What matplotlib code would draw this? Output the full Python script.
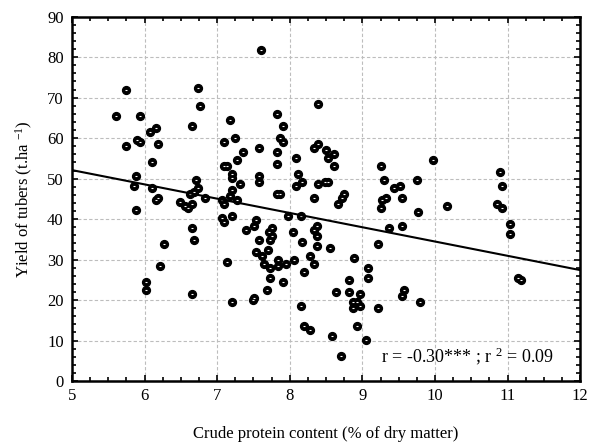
import matplotlib
matplotlib.use("Agg")
import matplotlib.pyplot as plt
from matplotlib.ticker import MultipleLocator

plt.rcParams['font.family'] = ['Liberation Serif', 'DejaVu Serif']
plt.rcParams['mathtext.fontset'] = 'custom'
plt.rcParams['mathtext.rm'] = 'Liberation Serif'
plt.rcParams['mathtext.it'] = 'Liberation Serif:italic'

# crude protein content (% DM) and tuber yield (t/ha)
protein = [5.61, 5.75, 5.75, 5.89, 5.94, 5.94, 5.88, 5.86, 5.88, 6.08,
           6.16, 6.18, 6.10, 6.10, 6.16, 6.19, 6.27, 6.21, 6.02, 6.02,
           6.49, 6.55, 6.60, 6.65, 6.63, 6.68, 6.74, 6.71, 6.83, 6.65,
           6.68, 6.65, 6.65, 6.74, 6.77,
           7.10, 7.10, 7.13, 7.18, 7.24, 7.27, 7.21, 7.21, 7.35, 7.32,
           7.21, 7.18, 7.27, 7.07, 7.10, 7.07, 7.10, 7.21, 7.13, 7.21,
           7.40, 7.51, 7.54, 7.57, 7.60, 7.57, 7.57, 7.57, 7.54, 7.62,
           7.70, 7.65, 7.73, 7.73, 7.68, 7.49, 7.51, 7.76, 7.71, 7.76,
           7.73, 7.82, 7.90, 7.87, 7.90, 7.82, 7.82, 7.82, 7.87, 7.84,
           7.84, 7.90, 7.95, 7.98, 8.04, 8.06, 8.09, 8.12, 8.09, 8.17,
           8.15, 8.17, 8.20, 8.15, 8.20, 8.28, 8.28, 8.34, 8.39, 8.34,
           8.39, 8.50, 8.61, 8.53, 8.61, 8.39, 8.48, 8.53, 8.34, 8.75,
           8.72, 8.67, 8.37, 8.34, 8.37, 8.37, 8.56, 8.58, 8.70, 8.64,
           8.81, 8.81, 8.89, 9.08, 9.08, 8.97, 8.87, 8.93, 8.87, 8.97,
           8.92, 9.05, 9.22, 9.22, 9.36, 9.55, 9.25, 9.30, 9.44, 9.52,
           9.27, 9.33, 9.25, 9.55, 9.75, 9.77, 9.97, 9.55, 9.58, 9.80,
           10.16, 10.90, 10.93, 10.85, 10.93, 11.04, 11.04, 11.15, 11.18]
yield_ = [65.5, 71.9, 58.1, 59.5, 59.0, 65.5, 50.6, 48.2, 42.2, 61.5,
          62.5, 58.5, 54.1, 47.7, 44.7, 45.2, 33.8, 28.4, 24.5, 22.5,
          44.2, 43.2, 42.7, 43.7, 46.2, 46.7, 47.7, 49.7, 45.2, 37.8,
          34.8, 21.5, 63.0, 72.4, 67.9,
          59.0, 53.1, 53.1, 64.5, 60.0, 54.6, 51.1, 50.1, 56.6, 48.7,
          47.2, 45.7, 44.7, 44.7, 43.7, 40.3, 39.3, 40.8, 29.4, 19.5,
          37.3, 38.3, 39.8, 57.6, 81.8, 50.6, 49.2, 34.8, 31.9, 30.9,
          32.4, 28.9, 27.9, 25.4, 22.5, 20.0, 20.5, 37.8, 36.8, 35.8,
          34.8, 66.0, 63.0, 60.0, 59.0, 56.6, 53.6, 46.2, 46.2, 29.9,
          28.4, 24.5, 28.9, 40.8, 36.8, 29.9, 55.1, 51.1, 48.2, 49.2,
          40.8, 34.3, 26.9, 18.5, 13.6, 12.6, 30.9, 28.9, 68.4, 57.6,
          58.5, 57.1, 56.1, 55.1, 53.1, 48.7, 49.2, 49.2, 45.2, 46.2,
          45.2, 43.7, 38.3, 37.3, 35.8, 33.4, 32.9, 11.1, 6.2, 22.0,
          22.0, 24.9, 30.4, 27.9, 25.4, 21.5, 19.5, 19.5, 18.0, 18.5,
          13.6, 10.1, 18.0, 33.8, 37.8, 38.3, 53.1, 49.7, 47.7, 48.2,
          44.7, 45.2, 42.7, 45.2, 49.7, 41.7, 54.6, 21.0, 22.5, 19.5,
          43.2, 51.6, 48.2, 43.7, 42.7, 38.8, 36.3, 25.4, 24.9]

# fitted regression line, ends at x = 5 and x = 12
line_x = [5, 12]
line_y = [52.1, 27.4]


def draw():
    fig = plt.figure(figsize=(5.92, 4.44), dpi=100)
    ax = fig.add_axes([0.1216, 0.1419, 0.8584, 0.8205])

    ax.grid(True, which='major', linestyle=(0, (3, 2)), color='#bdbdbd', linewidth=0.8)
    ax.set_axisbelow(True)

    ax.scatter(protein, yield_, s=32, c='black', zorder=3)
    ax.scatter(protein, yield_, s=3, marker='_', c='white', linewidths=0.8, zorder=4)
    ax.plot(line_x, line_y, color='black', linewidth=1.5, zorder=5)

    ax.set_xlim(5, 12)
    ax.set_ylim(0, 90)
    ax.xaxis.set_major_locator(MultipleLocator(1))
    ax.xaxis.set_minor_locator(MultipleLocator(0.25))
    ax.yaxis.set_major_locator(MultipleLocator(10))
    ax.yaxis.set_minor_locator(MultipleLocator(2))
    ax.tick_params(which='both', direction='in', top=True, right=True, width=1.2)
    ax.tick_params(which='major', length=4, labelsize=12)
    ax.tick_params(which='minor', length=3)
    ax.tick_params(axis='x', pad=5)
    ax.tick_params(axis='y', pad=6)
    for s in ax.spines.values():
        s.set_linewidth(1.8)

    ax.set_xlabel('Crude protein content (% of dry matter)', fontsize=12, labelpad=16)
    ax.set_ylabel('Yield of tubers (t.ha $^{-1}$)', fontsize=12, labelpad=9)

    ax.text(9.26, 6.2, 'r = -0.30*** ; r $^{2}$ = 0.09', fontsize=13,
            ha='left', va='center', zorder=6)

    plt.savefig('out.png', dpi=100)


if __name__ == "__main__":
    draw()
